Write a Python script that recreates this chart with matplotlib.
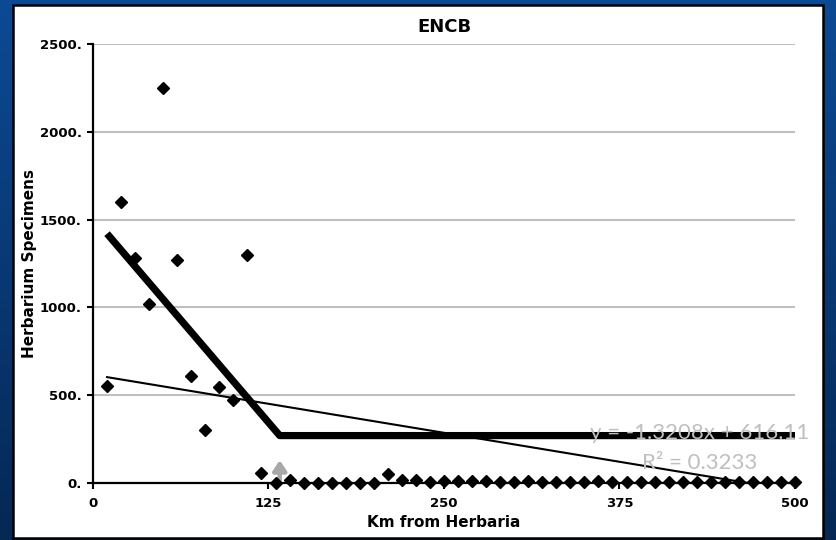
import numpy as np
import matplotlib
matplotlib.use("Agg")
import matplotlib.pyplot as plt
from matplotlib.patches import Rectangle

# ---- data ----
km = [10, 20, 30, 40, 50, 60, 70, 80, 90, 100, 110, 120,
      130, 140, 150, 160, 170, 180, 190, 200, 210, 220, 230, 240, 250, 260,
      270, 280, 290, 300, 310, 320, 330, 340, 350, 360, 370, 380, 390, 400,
      410, 420, 430, 440, 450, 460, 470, 480, 490, 500]
specimens = [550, 1600, 1280, 1020, 2250, 1270, 610, 300, 545, 475, 1300, 55,
             0, 15, 0, 0, 0, 0, 0, 0, 50, 15, 15, 5, 10, 10,
             10, 10, 5, 5, 10, 5, 5, 5, 5, 10, 5, 5, 5, 5,
             5, 5, 5, 5, 5, 5, 5, 5, 5, 5]

# piecewise (broken-stick) fit
seg_x = [10, 133, 500]
seg_y = [1420, 270, 270]

# linear trendline
slope = -1.3208
intercept = 616.11
r2 = 0.3233
trend_x = [10, 500]

breakpoint_km = 133
arrow_top = 130

title = "ENCB"
xlabel = "Km from Herbaria"
ylabel = "Herbarium Specimens"
xticks = [0, 125, 250, 375, 500]
yticks = [0, 500, 1000, 1500, 2000, 2500]
ytick_labels = ["0.", "500.", "1000.", "1500.", "2000.", "2500."]

W, H = 837, 540
fig = plt.figure(figsize=(W / 100, H / 100), dpi=100)

# background gradient
bg = fig.add_axes([0, 0, 1, 1], zorder=-10)
bg.set_axis_off()
grad = np.linspace(0, 1, 256).reshape(-1, 1)
top = np.array([0x0c, 0x4a, 0x94]) / 255
bot = np.array([0x05, 0x28, 0x55]) / 255
img = top[None, None, :] * (1 - grad[:, :, None]) + bot[None, None, :] * grad[:, :, None]
bg.imshow(img, aspect="auto", extent=[0, 1, 0, 1])
bg.set_xlim(0, 1)
bg.set_ylim(0, 1)

# white panel
px0, px1, py0, py1 = 13, 823, 5, 538
fig.patches.append(Rectangle((px0 / W, 1 - py1 / H), (px1 - px0) / W, (py1 - py0) / H,
                             transform=fig.transFigure, facecolor="white",
                             edgecolor="black", linewidth=1.8, zorder=-5))

ax = fig.add_axes([93 / W, 1 - 483 / H, (795 - 93) / W, (483 - 44) / H])
ax.set_facecolor("none")
ax.set_xlim(0, 500)
ax.set_ylim(0, 2500)

for s in ["top", "right"]:
    ax.spines[s].set_visible(False)
for s in ["left", "bottom"]:
    ax.spines[s].set_linewidth(1.6)
    ax.spines[s].set_color("black")
    ax.spines[s].set_zorder(3)

ax.yaxis.grid(True, color="#c0c0c0", linewidth=1.5)
ax.set_axisbelow(True)

fb = dict(family="DejaVu Sans", weight="bold")
ax.set_xticks(xticks)
ax.set_xticklabels([str(t) for t in xticks], fontsize=9.5, **fb)
ax.set_yticks(yticks)
ax.set_yticklabels(ytick_labels, fontsize=9.5, **fb)
ax.tick_params(axis="y", direction="out", length=4, width=1.5, pad=4)
ax.tick_params(axis="x", direction="out", length=4, width=1.5, pad=6)

ax.set_title(title, fontsize=13, pad=9, **fb)
ax.set_xlabel(xlabel, fontsize=11, labelpad=3.5, **fb)
ax.set_ylabel(ylabel, fontsize=11, labelpad=2, **fb)

# linear trend
tx = np.array(trend_x, dtype=float)
ty = slope * tx + intercept
ax.plot(tx, ty, color="black", linewidth=1.5, zorder=4)

# broken-stick
ax.plot(seg_x, seg_y, color="black", linewidth=5.2, solid_capstyle="butt", zorder=4)

# points
ax.plot(km, specimens, linestyle="none", marker="D", markersize=5.8,
        color="black", clip_on=False, zorder=5)

# breakpoint arrow
ax.annotate("", xy=(breakpoint_km, arrow_top), xytext=(breakpoint_km, 0),
            arrowprops=dict(arrowstyle="-|>,head_width=0.4,head_length=0.6",
                            color="#a8a8a8", linewidth=3.2,
                            shrinkA=0, shrinkB=0), zorder=4)

# equation text
ax.text(432, 285, f"y = {slope}x + {intercept}", fontsize=16, color="#bfbfbf",
        family="Lato", ha="center", va="center", zorder=6)
ax.text(432, 112, f"R\u00b2 = {r2}", fontsize=16, color="#bfbfbf",
        family="Lato", ha="center", va="center", zorder=6)

fig.savefig("out.png", dpi=100)
